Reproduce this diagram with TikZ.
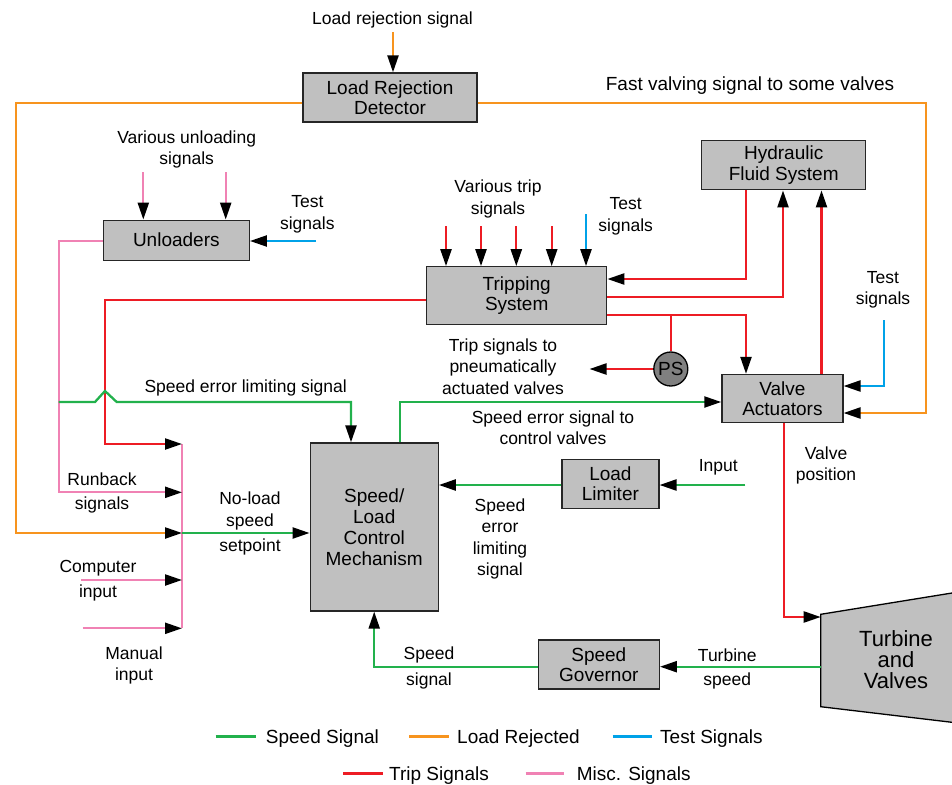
\documentclass[tikz,border=0pt]{standalone}
\usepackage{fontspec}
\setmainfont{Liberation Sans}
\usetikzlibrary{arrows.meta}

\definecolor{sigGreen}{RGB}{34,177,76}
\definecolor{sigOrange}{RGB}{247,148,30}
\definecolor{sigRed}{RGB}{237,28,36}
\definecolor{sigBlue}{RGB}{0,162,232}
\definecolor{sigPink}{RGB}{240,130,180}
\definecolor{boxGray}{RGB}{192,192,192}
\definecolor{psGray}{RGB}{128,128,128}

\begin{document}
\begin{tikzpicture}[x=1pt,y=-1pt,
  sigline/.style={line width=2.3pt},
  grn/.style={sigline,draw=sigGreen},
  org/.style={sigline,draw=sigOrange},
  rd/.style={sigline,draw=sigRed},
  blu/.style={sigline,draw=sigBlue},
  pnk/.style={sigline,draw=sigPink},
  arrowed/.style={-{Triangle[length=17pt,width=11pt,color=black]}},
  sysbox/.style={draw=black!85,line width=1.3pt,fill=boxGray,inner sep=0pt,
    align=center,font=\fontsize{19}{20.5}\selectfont},
  lbl/.style={inner sep=0pt,align=center,font=\fontsize{17.5}{21.5}\selectfont},
  legtxt/.style={inner sep=0pt,anchor=west,font=\fontsize{19}{22}\selectfont}]

\useasboundingbox (0,0) rectangle (952,784);

% ---- blocks ----
\node[sysbox,minimum width=174pt,minimum height=49pt] (lrd) at (390,97.5) {Load Rejection\\Detector};
\node[sysbox,minimum width=146pt,minimum height=40pt] (unl) at (176.3,240.2) {Unloaders};
\node[sysbox,minimum width=164pt,minimum height=49pt] (hyd) at (783.7,165.3) {Hydraulic\\Fluid System};
\node[sysbox,minimum width=180pt,minimum height=58pt] (trip) at (516.7,295.8) {Tripping\\System};
\node[sysbox,minimum width=121pt,minimum height=48pt] (va) at (782.4,398.5) {Valve\\Actuators};
\node[sysbox,minimum width=97pt,minimum height=49pt] (ll) at (610.4,483.7) {Load\\Limiter};
\node[sysbox,minimum width=128pt,minimum height=168pt,font=\fontsize{19}{21}\selectfont] (slc) at (374.2,527) {Speed/\\Load\\Control\\Mechanism};
\node[sysbox,minimum width=121pt,minimum height=49pt] (gov) at (598.8,664.5) {Speed\\Governor};
\node[circle,draw=black,line width=1.3pt,fill=psGray,minimum size=34pt,inner sep=0pt,
  font=\fontsize{19}{20}\selectfont] (ps) at (670.8,369) {PS};

% turbine casing, running off the right edge
\coordinate (tbNW) at (820.7,614.3);
\coordinate (tbNE) at (952,593);
\coordinate (tbSE) at (952,722.3);
\coordinate (tbSW) at (820.7,706.7);
\fill[boxGray] (tbNW) -- (tbNE) -- (tbSE) -- (tbSW) -- cycle;
\draw[line width=1.3pt,line join=miter] (tbNE) -- (tbNW) -- (tbSW) -- (tbSE);
\node[inner sep=0pt,align=center,font=\fontsize{22}{21}\selectfont] (tbtext) at (896,660) {Turbine\\and\\Valves};
\coordinate (tbIn) at (820.7,617);
\coordinate (tbOut) at (820.7,666.7);

% ---- helper points ----
\coordinate (busT) at (182,444);
\coordinate (busB) at (182,628.3);
\coordinate (lrin) at (393,32);
\coordinate (orgL) at (16,533);
\coordinate (orgR) at (926,103);
\coordinate (unTest) at (316,241);
\coordinate (trTest) at (586,214);
\coordinate (vaTest) at (884,320);
\coordinate (psJ) at (670.8,315);
\coordinate (pneu) at (589.5,369);
\coordinate (trL) at (105,300);
\coordinate (rbC) at (58.7,492.3);
\coordinate (selStart) at (58.7,402);
\coordinate (llIn) at (745.4,485);
\coordinate (cmpIn) at (81,580);
\coordinate (manIn) at (82.7,628.3);
\coordinate (u1) at (143.3,172);
\coordinate (u2) at (225.7,172);

% ---- misc (pink) signals ----
\draw[pnk] (busT) -- (busB);
\draw[pnk,arrowed] (u1) -- (u1 |- unl.north);
\draw[pnk,arrowed] (u2) -- (u2 |- unl.north);
\draw[pnk,arrowed] (unl.west |- unTest) -| (rbC) -- (busT |- rbC);
\draw[pnk,arrowed] (cmpIn) -- (busT |- cmpIn);
\draw[pnk,arrowed] (manIn) -- (busB);

% ---- load rejection (orange) ----
\draw[org,arrowed] (lrin) -- (lrin |- lrd.north);
\draw[org,arrowed] (lrd.west |- orgR) -| (orgL) -- (busT |- orgL);
\draw[org,arrowed] (lrd.east |- orgR) -- (orgR) |- (va.east |- 0,413);

% ---- test (blue) ----
\draw[blu,arrowed] (unTest) -- (unl.east |- unTest);
\draw[blu,arrowed] (trTest) -- (trTest |- trip.north);
\draw[blu,arrowed] (vaTest) |- (va.east |- 0,386);

% ---- trip (red) ----
\foreach \xx/\nm in {446/t1,481/t2,516.3/t3,551.7/t4}{
  \coordinate (\nm) at (\xx,226);
  \draw[rd,arrowed] (\nm) -- (\nm |- trip.north);
}
\draw[rd,arrowed] (hyd.south -| 746,0) |- (trip.east |- 0,279);
\draw[rd,arrowed] (trip.east |- 0,297) -| (hyd.south -| 783,0);
\draw[rd,arrowed] (va.north -| 821.5,0) -- (hyd.south -| 821.5,0);
\draw[rd,arrowed] (trip.east |- psJ) -| (va.north -| 746,0);
\draw[rd] (psJ) -- (ps.north);
\draw[rd,arrowed] (ps.west) -- (pneu);
\draw[rd,arrowed] (trip.west |- trL) -- (trL) |- (busT);
\draw[rd,arrowed] (va.south -| 784,0) |- (tbIn);

% ---- speed (green) ----
\draw[grn,arrowed] (selStart) -- (95,402) -- (105,391) -- (116.7,402) -| (slc.north -| 351,0);
\draw[grn,arrowed] (slc.north -| 400,0) |- (va.west |- 0,402);
\draw[grn,arrowed] (llIn) -- (ll.east |- llIn);
\draw[grn,arrowed] (ll.west |- llIn) -- (slc.east |- llIn);
\draw[grn,arrowed] (busT |- orgL) -- (slc.west |- orgL);
\draw[grn,arrowed] (tbOut) -- (gov.east |- tbOut);
\draw[grn,arrowed] (gov.west |- tbOut) -| (slc.south);

% ---- labels ----
\node[lbl] (tLR) at (392.5,20) {Load rejection signal};
\node[lbl,font=\fontsize{19}{22}\selectfont] (tFV) at (750,85.5) {Fast valving signal to some valves};
\node[lbl] (tVU) at (186.7,149.5) {Various unloading\\signals};
\node[lbl] (tT1) at (307.3,214.5) {Test\\signals};
\node[lbl] (tVT) at (498,199) {Various trip\\signals};
\node[lbl] (tT2) at (625.7,216.5) {Test\\signals};
\node[lbl] (tT3) at (883,290) {Test\\signals};
\node[lbl] (tPN) at (503,366.5) {Trip signals to\\pneumatically\\actuated valves};
\node[lbl] (tSEL) at (245.7,387.5) {Speed error limiting signal};
\node[lbl] (tSES) at (553,427.5) {Speed error signal to\\control valves};
\node[lbl] (tVP) at (826,465.5) {Valve\\position};
\node[lbl] (tIn) at (718.3,467.5) {Input};
\node[lbl] (tSEL2) at (500,539) {Speed\\error\\limiting\\signal};
\node[lbl] (tRB1) at (102,479) {Runback};
\node[lbl] (tRB2) at (102,505) {signals};
\node[lbl] (tNL1) at (250,511) {No-load\\speed};
\node[lbl] (tNL2) at (250,546.5) {setpoint};
\node[lbl] (tCI1) at (98,568) {Computer};
\node[lbl] (tCI2) at (98,593) {input};
\node[lbl] (tMI) at (134,665.5) {Manual\\input};
\node[lbl] (tSS1) at (429,655) {Speed};
\node[lbl] (tSS2) at (429,681) {signal};
\node[lbl] (tTS1) at (727.3,655) {Turbine};
\node[lbl] (tTS2) at (727.3,681) {speed};

% ---- legend ----
\node[legtxt] (lg1) at (265.7,738.5) {Speed Signal};
\node[legtxt] (lg2) at (457,738.5) {Load Rejected};
\node[legtxt] (lg3) at (660,738.5) {Test Signals};
\node[legtxt] (lg4) at (389,775.5) {Trip Signals};
\node[legtxt] (lg5) at (576.7,775.5) {Misc. Signals};
\draw[grn] (215.7,736.5) coordinate (lg1a) -- (lg1a -| 255.7,0);
\draw[org] (409,736.5) coordinate (lg2a) -- (lg2a -| 449,0);
\draw[blu] (612.7,736.5) coordinate (lg3a) -- (lg3a -| 651.7,0);
\draw[rd]  (343,773.5) coordinate (lg4a) -- (lg4a -| 382.7,0);
\draw[pnk] (525.7,773.5) coordinate (lg5a) -- (lg5a -| 564.3,0);
\end{tikzpicture}
\end{document}
